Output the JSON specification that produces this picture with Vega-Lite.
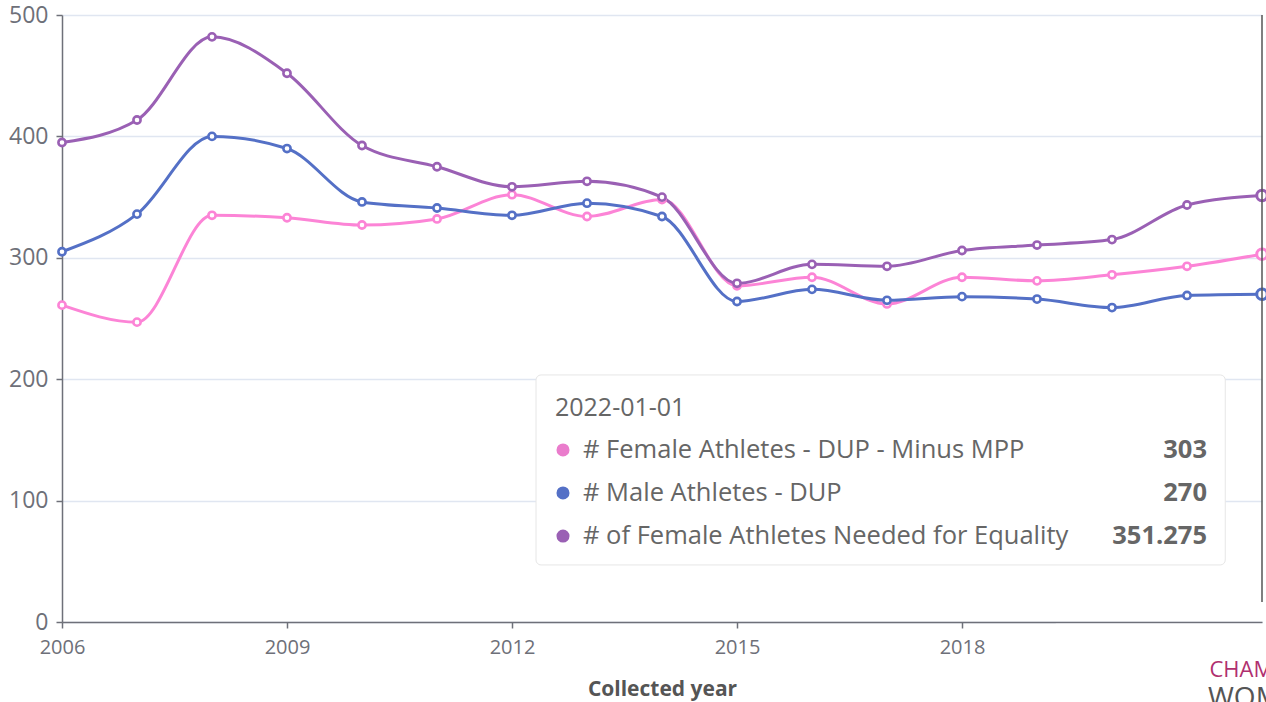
{
  "$schema": "https://vega.github.io/schema/vega-lite/v6.json",
  "width": 1200,
  "height": 607,
  "autosize": {"type": "none"},
  "padding": {"left": 62, "top": 15, "right": 4, "bottom": 80},
  "background": "white",
  "config": {"font": "Open Sans", "view": {"stroke": null}},
  "datasets": {
    "main": [
      {"year": 2006, "series": "# Female Athletes - DUP - Minus MPP", "value": 261},
      {"year": 2007, "series": "# Female Athletes - DUP - Minus MPP", "value": 247},
      {"year": 2008, "series": "# Female Athletes - DUP - Minus MPP", "value": 335},
      {"year": 2009, "series": "# Female Athletes - DUP - Minus MPP", "value": 333},
      {"year": 2010, "series": "# Female Athletes - DUP - Minus MPP", "value": 327},
      {"year": 2011, "series": "# Female Athletes - DUP - Minus MPP", "value": 332},
      {"year": 2012, "series": "# Female Athletes - DUP - Minus MPP", "value": 352},
      {"year": 2013, "series": "# Female Athletes - DUP - Minus MPP", "value": 334},
      {"year": 2014, "series": "# Female Athletes - DUP - Minus MPP", "value": 348},
      {"year": 2015, "series": "# Female Athletes - DUP - Minus MPP", "value": 277},
      {"year": 2016, "series": "# Female Athletes - DUP - Minus MPP", "value": 284},
      {"year": 2017, "series": "# Female Athletes - DUP - Minus MPP", "value": 262},
      {"year": 2018, "series": "# Female Athletes - DUP - Minus MPP", "value": 284},
      {"year": 2019, "series": "# Female Athletes - DUP - Minus MPP", "value": 281},
      {"year": 2020, "series": "# Female Athletes - DUP - Minus MPP", "value": 286},
      {"year": 2021, "series": "# Female Athletes - DUP - Minus MPP", "value": 293},
      {"year": 2022, "series": "# Female Athletes - DUP - Minus MPP", "value": 303},
      {"year": 2006, "series": "# Male Athletes - DUP", "value": 305},
      {"year": 2007, "series": "# Male Athletes - DUP", "value": 336},
      {"year": 2008, "series": "# Male Athletes - DUP", "value": 400},
      {"year": 2009, "series": "# Male Athletes - DUP", "value": 390},
      {"year": 2010, "series": "# Male Athletes - DUP", "value": 346},
      {"year": 2011, "series": "# Male Athletes - DUP", "value": 341},
      {"year": 2012, "series": "# Male Athletes - DUP", "value": 335},
      {"year": 2013, "series": "# Male Athletes - DUP", "value": 345},
      {"year": 2014, "series": "# Male Athletes - DUP", "value": 334},
      {"year": 2015, "series": "# Male Athletes - DUP", "value": 264},
      {"year": 2016, "series": "# Male Athletes - DUP", "value": 274},
      {"year": 2017, "series": "# Male Athletes - DUP", "value": 265},
      {"year": 2018, "series": "# Male Athletes - DUP", "value": 268},
      {"year": 2019, "series": "# Male Athletes - DUP", "value": 266},
      {"year": 2020, "series": "# Male Athletes - DUP", "value": 259},
      {"year": 2021, "series": "# Male Athletes - DUP", "value": 269},
      {"year": 2022, "series": "# Male Athletes - DUP", "value": 270},
      {"year": 2006, "series": "# of Female Athletes Needed for Equality", "value": 395},
      {"year": 2007, "series": "# of Female Athletes Needed for Equality", "value": 413.5},
      {"year": 2008, "series": "# of Female Athletes Needed for Equality", "value": 482},
      {"year": 2009, "series": "# of Female Athletes Needed for Equality", "value": 452},
      {"year": 2010, "series": "# of Female Athletes Needed for Equality", "value": 392.5},
      {"year": 2011, "series": "# of Female Athletes Needed for Equality", "value": 375},
      {"year": 2012, "series": "# of Female Athletes Needed for Equality", "value": 358.5},
      {"year": 2013, "series": "# of Female Athletes Needed for Equality", "value": 363},
      {"year": 2014, "series": "# of Female Athletes Needed for Equality", "value": 350},
      {"year": 2015, "series": "# of Female Athletes Needed for Equality", "value": 279},
      {"year": 2016, "series": "# of Female Athletes Needed for Equality", "value": 294.6},
      {"year": 2017, "series": "# of Female Athletes Needed for Equality", "value": 293},
      {"year": 2018, "series": "# of Female Athletes Needed for Equality", "value": 306},
      {"year": 2019, "series": "# of Female Athletes Needed for Equality", "value": 310.5},
      {"year": 2020, "series": "# of Female Athletes Needed for Equality", "value": 315},
      {"year": 2021, "series": "# of Female Athletes Needed for Equality", "value": 343.5},
      {"year": 2022, "series": "# of Female Athletes Needed for Equality", "value": 351.275}
    ],
    "blank": [{}]
  },
  "data": {"name": "main"},
  "layer": [
    {
      "mark": {"type": "line", "interpolate": "monotone", "strokeWidth": 3},
      "encoding": {
        "x": {"field": "year", "type": "quantitative", "scale": {"domain": [2006, 2022], "nice": false, "zero": false},
          "axis": {"values": [2006, 2009, 2012, 2015, 2018], "format": "d", "grid": false, "title": "Collected year",
            "labelColor": "#6e7079", "labelFontSize": 20, "labelPadding": 9, "tickSize": 6, "tickColor": "#6e7079",
            "domainColor": "#6e7079", "domainWidth": 1.5, "tickWidth": 1.5,
            "titleFontSize": 21, "titleFontWeight": "bold", "titleColor": "#555", "titlePadding": 21, "labelFlush": false}},
        "y": {"field": "value", "type": "quantitative", "scale": {"domain": [0, 500], "nice": false},
          "axis": {"values": [0, 100, 200, 300, 400, 500], "title": null, "gridColor": "#e0e6f1", "gridWidth": 1.5,
            "labelColor": "#6e7079", "labelFontSize": 23, "labelPadding": 8, "tickSize": 6, "tickColor": "#6e7079",
            "domainColor": "#6e7079", "domainWidth": 1.5, "tickWidth": 1.5}},
        "color": {"field": "series", "type": "nominal", "legend": null,
          "scale": {"domain": ["# Female Athletes - DUP - Minus MPP", "# Male Athletes - DUP", "# of Female Athletes Needed for Equality"],
            "range": ["#fc84d6", "#5470c6", "#9a60b4"]}}
      }
    },
    {
      "mark": {"type": "point", "shape": "circle", "filled": false, "fill": "white", "fillOpacity": 1, "strokeWidth": 2.6, "size": 52},
      "encoding": {
        "x": {"field": "year", "type": "quantitative"},
        "y": {"field": "value", "type": "quantitative"},
        "color": {"field": "series", "type": "nominal"}
      }
    },
    {
      "transform": [{"filter": "datum.year == 2022"}],
      "mark": {"type": "point", "shape": "circle", "filled": false, "fill": "white", "fillOpacity": 1, "strokeWidth": 3, "size": 110},
      "encoding": {
        "x": {"field": "year", "type": "quantitative"},
        "y": {"field": "value", "type": "quantitative"},
        "color": {"field": "series", "type": "nominal"}
      }
    },
    {
      "data": {"name": "blank"},
      "mark": {"type": "rule", "color": "#555", "strokeWidth": 1.5},
      "encoding": {"x": {"datum": 2022}, "y": {"datum": 500}, "y2": {"datum": 16.5}}
    },
    {
      "data": {"name": "blank"},
      "mark": {"type": "rect", "fill": "white", "stroke": "#e6e6e6", "strokeWidth": 1, "cornerRadius": 5},
      "encoding": {"x": {"datum": 2012.32}, "x2": {"datum": 2021.51}, "y": {"datum": 203.5}, "y2": {"datum": 47}}
    },
    {
      "data": {"name": "blank"},
      "mark": {"type": "text", "text": "2022-01-01", "align": "left", "baseline": "middle", "fontSize": 25, "color": "#666"},
      "encoding": {"x": {"datum": 2012.573}, "y": {"datum": 176.3}}
    },
    {
      "transform": [{"filter": "datum.year == 2022 && datum.series == '# Female Athletes - DUP - Minus MPP'"}],
      "encoding": {"y": {"datum": 141.7}},
      "layer": [
        {"mark": {"type": "point", "shape": "circle", "filled": true, "opacity": 1, "size": 170, "color": "#ea7ccc"},
          "encoding": {"x": {"datum": 2012.68}}},
        {"mark": {"type": "text", "align": "left", "baseline": "middle", "fontSize": 25.5, "color": "#666"},
          "encoding": {"x": {"datum": 2012.947}, "text": {"field": "series"}}},
        {"mark": {"type": "text", "align": "right", "baseline": "middle", "fontSize": 25.5, "fontWeight": "bold", "color": "#666"},
          "encoding": {"x": {"datum": 2021.267}, "text": {"field": "value", "type": "quantitative", "format": ".6~g"}}}
      ]
    },
    {
      "transform": [{"filter": "datum.year == 2022 && datum.series == '# Male Athletes - DUP'"}],
      "encoding": {"y": {"datum": 106.3}},
      "layer": [
        {"mark": {"type": "point", "shape": "circle", "filled": true, "opacity": 1, "size": 170, "color": "#5470c6"},
          "encoding": {"x": {"datum": 2012.68}}},
        {"mark": {"type": "text", "align": "left", "baseline": "middle", "fontSize": 25.5, "color": "#666"},
          "encoding": {"x": {"datum": 2012.947}, "text": {"field": "series"}}},
        {"mark": {"type": "text", "align": "right", "baseline": "middle", "fontSize": 25.5, "fontWeight": "bold", "color": "#666"},
          "encoding": {"x": {"datum": 2021.267}, "text": {"field": "value", "type": "quantitative", "format": ".6~g"}}}
      ]
    },
    {
      "transform": [{"filter": "datum.year == 2022 && datum.series == '# of Female Athletes Needed for Equality'"}],
      "encoding": {"y": {"datum": 70.8}},
      "layer": [
        {"mark": {"type": "point", "shape": "circle", "filled": true, "opacity": 1, "size": 170, "color": "#9a60b4"},
          "encoding": {"x": {"datum": 2012.68}}},
        {"mark": {"type": "text", "align": "left", "baseline": "middle", "fontSize": 25.5, "color": "#666"},
          "encoding": {"x": {"datum": 2012.947}, "text": {"field": "series"}}},
        {"mark": {"type": "text", "align": "right", "baseline": "middle", "fontSize": 25.5, "fontWeight": "bold", "color": "#666"},
          "encoding": {"x": {"datum": 2021.267}, "text": {"field": "value", "type": "quantitative", "format": ".6~g"}}}
      ]
    },
    {
      "data": {"name": "blank"},
      "mark": {"type": "rect", "fill": "white"},
      "encoding": {"x": {"datum": 2019.25}, "x2": {"datum": 2022.1}, "y": {"datum": -1.5}, "y2": {"datum": -66}}
    },
    {
      "data": {"name": "blank"},
      "mark": {"type": "text", "text": "CHAMPION", "align": "left", "baseline": "middle", "fontSize": 22, "color": "#b0306f"},
      "encoding": {"x": {"datum": 2021.3}, "y": {"datum": -39.5}}
    },
    {
      "data": {"name": "blank"},
      "mark": {"type": "text", "text": "WOMEN", "align": "left", "baseline": "top", "fontSize": 28, "color": "#555"},
      "encoding": {"x": {"datum": 2021.28}, "y": {"datum": -52}}
    }
  ]
}
